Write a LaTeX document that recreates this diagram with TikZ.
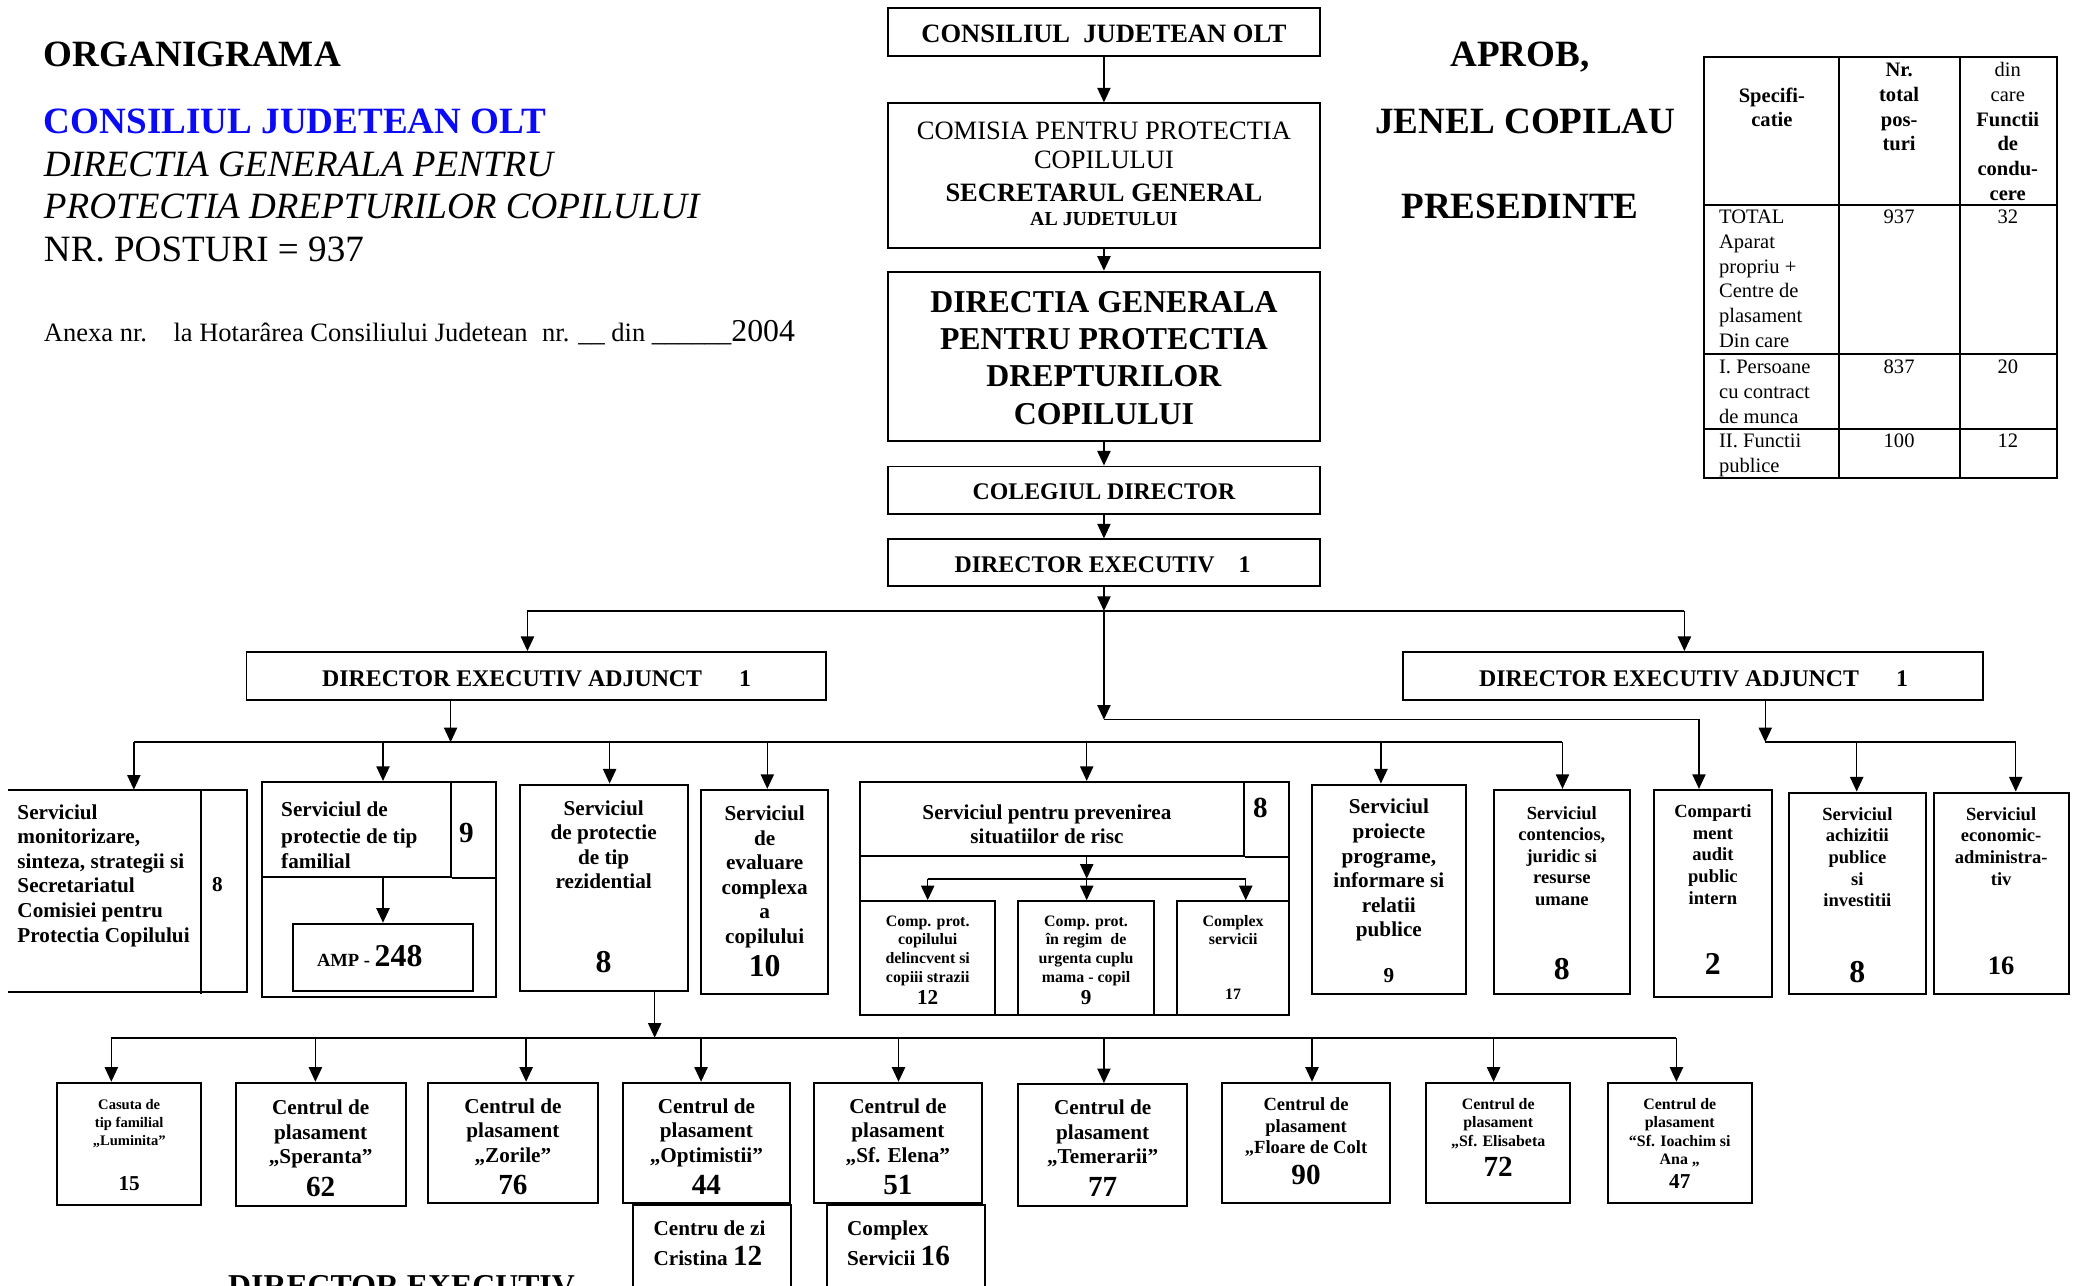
\documentclass[tikz,border=0pt]{standalone}
\usepackage{fontspec}
\setmainfont{Liberation Serif}
\usepackage{tikz}
\usetikzlibrary{arrows.meta,fit,positioning}
\definecolor{cjblue}{RGB}{10,10,245}
\newcommand{\numsz}[2]{{\fontsize{#1}{#1}\selectfont #2}}
\tikzset{%
	box/.style     = {draw, rectangle, line width=1.5pt, inner sep=0pt},
	boxline/.style = {line width=1.5pt},
	bus/.style     = {line width=1.5pt},
	arrow/.style   = {line width=1.1pt, -{Triangle[length=11pt,width=10pt]}},
	txt/.style     = {inner sep=0pt, align=center, anchor=base},
	txtl/.style    = {inner sep=0pt, align=left, anchor=base west},
	b11/.style     = {font=\fontsize{11}{13.5}\selectfont\bfseries},
	b12/.style     = {font=\fontsize{12}{14}\selectfont\bfseries},
	b14/.style     = {font=\fontsize{14}{16.3}\selectfont\bfseries},
	b15/.style     = {font=\fontsize{15.5}{18.6}\selectfont\bfseries},
	b16/.style     = {font=\fontsize{16}{18.6}\selectfont\bfseries},
	b18/.style     = {font=\fontsize{18}{21}\selectfont\bfseries},
	b20/.style     = {font=\fontsize{20}{22}\selectfont\bfseries},
	b22/.style     = {font=\fontsize{22}{24}\selectfont\bfseries},
	b24/.style     = {font=\fontsize{24}{28}\selectfont\bfseries},
	b28/.style     = {font=\fontsize{28}{32}\selectfont\bfseries},
	i28/.style     = {font=\fontsize{28}{32}\selectfont\itshape},
	r28/.style     = {font=\fontsize{28}{32}\selectfont},
	r20/.style     = {font=\fontsize{20}{22}\selectfont},
	r15/.style     = {font=\fontsize{15.5}{18.6}\selectfont},
}

\begin{document}
\begin{tikzpicture}[x=1pt,y=-1pt]
	\useasboundingbox (0,0) rectangle (1568,970);
	% titlu (multi-line texts sit on their last baseline)
	\node[txtl, b28] (org) at (33,50) {ORGANIGRAMA};
	\node[txtl, b28, text=cjblue] (cjo) at (33,101) {CONSILIUL JUDETEAN OLT};
	\node[txtl, i28] (dgp1) at (33,133) {DIRECTIA GENERALA PENTRU};
	\node[txtl, i28] (dgp2) at (33,165) {PROTECTIA DREPTURILOR COPILULUI};
	\node[txtl, r28] (npost) at (33,197) {NR. POSTURI = 937};
	\node[txtl, r20] (anexa) at (33,258) {Anexa nr.\hspace{20pt}la Hotarârea Consiliului Judetean\hspace{11pt}nr. \_\_ din \_\_\_\_\_\_\numsz{24}{2004}};
	\node[txt, b28] (aprob) at (1147,50) {APROB,};
	\node[txt, b28] (presn) at (1151,101) {JENEL COPILAU};
	\node[txt, b28] (presf) at (1147,165) {PRESEDINTE};
	% tabel posturi
	\draw[boxline] (1286,43) rectangle (1552,361);
	\foreach \x in {1388,1479} \draw[boxline] (\x,43) -- (\x,361);
	\foreach \y in {155,267,324} \draw[boxline] (1286,\y) -- (1552,\y);
	\node[txt, b15] (th1) at (1337,95.6) {Specifi-\\catie};
	\node[txt, b15] (th2) at (1433,113.8) {Nr.\\total\\pos-\\turi};
	\node[txt, r15] (th3) at (1515,151) {din\\care\\\textbf{Functii}\\\textbf{de}\\\textbf{condu-}\\\textbf{cere}};
	\node[txtl, r15] (tr1) at (1297,262) {TOTAL\\Aparat\\propriu +\\Centre de\\plasament\\Din care};
	\node[txt, r15] (tr1a) at (1433,169) {937};
	\node[txt, r15] (tr1b) at (1515,169) {32};
	\node[txtl, r15] (tr2) at (1297,319.2) {I. Persoane\\cu contract\\de munca};
	\node[txt, r15] (tr2a) at (1433,282) {837};
	\node[txt, r15] (tr2b) at (1515,282) {20};
	\node[txtl, r15] (tr3) at (1297,356.6) {II. Functii\\publice};
	\node[txt, r15] (tr3a) at (1433,338) {100};
	\node[txt, r15] (tr3b) at (1515,338) {12};
	% conducere
	\node[box, fit={(670,6) (996,42)}] (cjt) {};
	\node[txt, b20] (cjtt) at (833,32) {CONSILIUL\ \ JUDETEAN OLT};
	\node[box, fit={(670,78) (996,187)}] (cpc) {};
	\node[txt, r20] (cpct) at (833,170) {COMISIA PENTRU PROTECTIA\\COPILULUI\\[3pt]\textbf{SECRETARUL GENERAL}\\[-4pt]\numsz{15}{\textbf{AL JUDETULUI}}};
	\node[box, fit={(670,205) (996,333)}] (dgpdc) {};
	\node[txt, b24] (dgpdct) at (833,320) {DIRECTIA GENERALA\\PENTRU PROTECTIA\\DREPTURILOR\\COPILULUI};
	\node[box, fit={(670,352) (996,388)}] (coldir) {};
	\node[txt, b18] (coldirt) at (833,377) {COLEGIUL DIRECTOR};
	\node[box, fit={(670,407) (996,442)}] (direx) {};
	\node[txt, b18] (dirext) at (832,432) {DIRECTOR EXECUTIV\hspace{18pt}1};
	\draw[arrow] (cjt) -- (cpc);
	\draw[arrow] (cpc) -- (dgpdc);
	\draw[arrow] (dgpdc) -- (coldir);
	\draw[arrow] (coldir) -- (direx);
	\coordinate (j0) at (833,461);
	\coordinate (j0l) at (398,461);
	\coordinate (j0r) at (1271,461);
	\coordinate (j1) at (833,543);
	\draw[arrow] (direx) -- (j0);
	\draw[bus] (j0l) -- (j0r);
	\node[box, fit={(186,492) (623,528)}] (deal) {};
	\node[txt, b18] (dealt) at (405,518) {DIRECTOR EXECUTIV ADJUNCT\hspace{28pt}1};
	\node[box, fit={(1059,492) (1496,528)}] (dear) {};
	\node[txt, b18] (deart) at (1278,518) {DIRECTOR EXECUTIV ADJUNCT\hspace{28pt}1};
	\draw[arrow] (j0l) -- (j0l |- deal.north);
	\draw[arrow] (j0r) -- (j0r |- dear.north);
	\draw[arrow] (j0) -- (j1);
	\coordinate (j2) at (340,560);
	\draw[arrow] (deal.south -| j2) -- (j2);
	\draw[bus] (101,560) -- (1179,560);
	\coordinate (j3) at (1332,560);
	\draw[arrow] (dear.south -| j3) -- (j3);
	\draw[bus] (j3) -- (1521,560);
	% servicii
	\node[inner sep=0pt, fit={(6,596) (186,748)}] (mon) {};
	\draw[boxline] (mon.north west) -- (mon.north east) -- (mon.south east) -- (mon.south west);
	\draw[boxline] (152,596) -- (152,750);
	\node[txtl, b16] (mont) at (13,711) {Serviciul\\monitorizare,\\sinteza, strategii si\\Secretariatul\\Comisiei pentru\\Protectia Copilului};
	\node[txt, b16] (monn) at (164,673) {8};
	\node[box, fit={(198,590) (374,752)}] (fam) {};
	\node[box, fit={(198,590) (340,662)}] (famh) {};
	\draw[boxline] (famh.south east) -- (famh.south east -| fam.east);
	\node[txtl, b16] (famt) at (212,655.2) {Serviciul de\\[2pt]protectie de tip\\familial};
	\node[txt, b22] (famn) at (352,636) {9};
	\node[box, fit={(221,697) (357,748)}] (amp) {};
	\node[txt, b14] (ampt) at (279,729) {AMP - \numsz{24}{248}};
	\draw[arrow] (famh.south -| amp.north) -- (amp);
	\node[box, fit={(392,592) (519,748)}] (rez) {};
	\node[txt, b16] (rezt) at (455.5,670.8) {Serviciul\\de protectie\\de tip\\rezidential};
	\node[txt, b24] (rezn) at (455.5,734) {8};
	\node[box, fit={(529,596) (625,750)}] (eva) {};
	\node[txt, b16] (evat) at (577,712) {Serviciul\\de\\evaluare\\complexa\\a\\copilului};
	\node[txt, b24] (evan) at (577,737) {10};
	\node[box, fit={(649,590) (973,766)}] (prev) {};
	\node[box, fit={(649,590) (939,646)}] (prevh) {};
	\draw[boxline] (prevh.south east) -- (prevh.south east -| prev.east);
	\node[txt, b16] (prevt) at (790,636.6) {Serviciul pentru prevenirea\\situatiilor de risc};
	\node[txt, b22] (prevn) at (951,617) {8};
	\node[box, fit={(649,680) (751,766)}] (cpd) {};
	\node[box, fit={(768,680) (871,766)}] (cpu) {};
	\node[box, fit={(888,680) (973,766)}] (cxs) {};
	\node[txt, b12] (cpdt) at (700,741) {Comp. prot.\\copilului\\delincvent si\\copiii strazii};
	\node[txt, b16] (cpdn) at (700,758) {12};
	\node[txt, b12] (cput) at (819.5,741) {Comp. prot.\\în regim\ \ de\\urgenta cuplu\\mama - copil};
	\node[txt, b16] (cpun) at (819.5,758) {9};
	\node[txt, b12] (cxst) at (930.5,713) {Complex\\servicii};
	\node[txt, b12] (cxsn) at (930.5,754) {17};
	\coordinate (jp) at (820,663);
	\draw[arrow] (prevh.south -| jp) -- (jp);
	\draw[bus] (700,663) -- (940,663);
	\foreach \x/\n in {700/cpd, 820/cpu, 940/cxs} \draw[arrow] (\x,663) -- (\x,663 |- \n.north);
	\node[box, fit={(990,592) (1106,750)}] (proi) {};
	\node[txt, b16] (proit) at (1048,707) {Serviciul\\proiecte\\programe,\\informare si\\relatii\\publice};
	\node[txt, b16] (proin) at (1048,741) {9};
	\node[box, fit={(1127,596) (1230,750)}] (cont) {};
	\node[txt, b14] (contt) at (1178.5,683.2) {Serviciul\\contencios,\\juridic si\\resurse\\umane};
	\node[txt, b24] (contn) at (1178.5,739) {8};
	\node[box, fit={(1248,596) (1337,752)}] (audit) {};
	\node[txt, b14] (auditt) at (1292.5,682.2) {Comparti\\ment\\audit\\public\\intern};
	\node[txt, b24] (auditn) at (1292.5,735) {2};
	\node[box, fit={(1350,598) (1453,750)}] (achz) {};
	\node[txt, b14] (achzt) at (1401.5,684.2) {Serviciul\\achizitii\\publice\\si\\investitii};
	\node[txt, b24] (achzn) at (1401.5,741) {8};
	\node[box, fit={(1459,598) (1561,750)}] (econ) {};
	\node[txt, b14] (econt) at (1510,667.9) {Serviciul\\economic-\\administra-\\tiv};
	\node[txt, b20] (econn) at (1510,735) {16};
	\draw[arrow] (j1) -| ([xshift=-10.5pt]audit.north);
	\foreach \x/\n in {101/mon, 289/fam, 460/rez, 579/eva, 820/prev, 1042/proi, 1179/cont, 1401/achz, 1521/econ}
		\draw[arrow] (\x,560) -- (\x,560 |- \n.north);
	% centre de plasament
	\coordinate (j4) at (494,783);
	\draw[arrow] (rez.south -| j4) -- (j4);
	\draw[bus] (84,783) -- (1265,783);
	\node[box, fit={(43,817) (152,909)}] (lum) {};
	\node[txt, b11] (lumt) at (97.5,864) {Casuta de\\tip familial\\„Luminita”};
	\node[txt, b16] (lumn) at (97.5,898) {15};
	\node[box, fit={(178,817) (306,910)}] (spe) {};
	\node[txt, b16] (spet) at (242,878.2) {Centrul de\\plasament\\„Speranta”};
	\node[txt, b22] (spen) at (242,903) {62};
	\node[box, fit={(323,817) (451,908)}] (zor) {};
	\node[txt, b16] (zort) at (387,877.2) {Centrul de\\plasament\\„Zorile”};
	\node[txt, b22] (zorn) at (387,901) {76};
	\node[box, fit={(470,817) (596,908)}] (opt) {};
	\node[txt, b16] (optt) at (533,877.2) {Centrul de\\plasament\\„Optimistii”};
	\node[txt, b22] (optn) at (533,901) {44};
	\node[box, fit={(614,817) (741,908)}] (ele) {};
	\node[txt, b16] (elet) at (677.5,877.2) {Centrul de\\plasament\\„Sf. Elena”};
	\node[txt, b22] (elen) at (677.5,901) {51};
	\node[box, fit={(768,818) (896,910)}] (tem) {};
	\node[txt, b16] (temt) at (832,878.2) {Centrul de\\plasament\\„Temerarii”};
	\node[txt, b22] (temn) at (832,903) {77};
	\node[box, fit={(922,817) (1049,908)}] (flo) {};
	\node[txt, b14] (flot) at (985.5,870.6) {Centrul de\\plasament\\„Floare de Colt};
	\node[txt, b22] (flon) at (985.5,894) {90};
	\node[box, fit={(1076,817) (1185,908)}] (eli) {};
	\node[txt, b12] (elit) at (1130.5,865) {Centrul de\\plasament\\„Sf. Elisabeta};
	\node[txt, b22] (elin) at (1130.5,888) {72};
	\node[box, fit={(1213,817) (1322,908)}] (ioa) {};
	\node[txt, b12] (ioat) at (1267.5,879) {Centrul de\\plasament\\“Sf. Ioachim si\\Ana „};
	\node[txt, b16] (ioan) at (1267.5,897) {47};
	\foreach \x/\n in {84/lum, 238/spe, 397/zor, 529/opt, 678/ele, 833/tem, 990/flo, 1127/eli, 1265/ioa}
		\draw[arrow] (\x,783) -- (\x,783 |- \n.north);
	\node[box, fit={(478,909) (597,985)}] (cri) {};
	\node[txtl, b16] (crit) at (493,955) {Centru de zi\\[4.4pt]Cristina \numsz{22}{12}};
	\node[box, fit={(624,909) (743,985)}] (cxz) {};
	\node[txtl, b16] (cxzt) at (639,955) {Complex\\[4.4pt]Servicii \numsz{22}{16}};
	\node[txtl, b24] (dirx2) at (172,978) {DIRECTOR EXECUTIV};
\end{tikzpicture}
\end{document}
